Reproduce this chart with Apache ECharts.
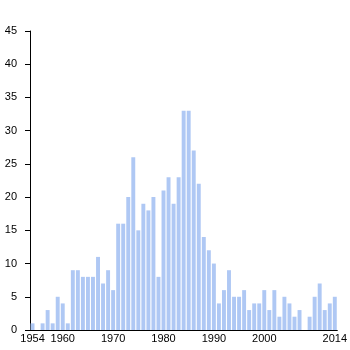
<!DOCTYPE html>
<html>
<head>
<meta charset="utf-8">
<script src="https://cdn.jsdelivr.net/npm/echarts@6/dist/echarts.min.js"></script>
<style>html,body{margin:0;padding:0;background:#fff;}#c{width:350px;height:350px;}</style>
</head>
<body>
<div id="c"></div>
<script>
var years = [];
for (var y = 1954; y <= 2014; y++) years.push(String(y));
var counts = [1,0,1,3,1,5,4,1,9,9,8,8,8,11,7,9,6,16,16,20,26,15,19,18,20,8,21,23,19,23,33,33,27,22,14,12,10,4,6,9,5,5,6,3,4,4,6,3,6,2,5,4,2,3,0,2,5,7,3,4,5];
var tickYears = ['1954','1960','1970','1980','1990','2000','2014'];
var yTicks = {min: 0, max: 45, interval: 5};

var chart = echarts.init(document.getElementById('c'), null, {renderer: 'canvas'});
chart.setOption({
  animation: false,
  grid: {left: 30, right: 9, top: 31, bottom: 20, containLabel: false},
  xAxis: {
    type: 'category',
    data: years,
    boundaryGap: true,
    axisLine: {show: true, lineStyle: {color: '#000', width: 1}},
    axisTick: {show: false},
    axisLabel: {
      interval: function (i, v) { return tickYears.indexOf(v) >= 0; },
      color: '#000', fontSize: 11, fontFamily: 'Liberation Sans, Arial, sans-serif', margin: 3
    },
    splitLine: {show: false}
  },
  yAxis: {
    type: 'value',
    min: yTicks.min, max: yTicks.max, interval: yTicks.interval,
    axisLine: {show: true, lineStyle: {color: '#000', width: 1}},
    axisTick: {show: true, length: 5, lineStyle: {color: '#000'}},
    axisLabel: {color: '#000', fontSize: 11, fontFamily: 'Liberation Sans, Arial, sans-serif', margin: 13},
    splitLine: {show: false}
  },
  series: [{
    type: 'bar',
    data: counts,
    barCategoryGap: '22%',
    itemStyle: {color: '#afc8f4'}
  }]
});
</script>
</body>
</html>
